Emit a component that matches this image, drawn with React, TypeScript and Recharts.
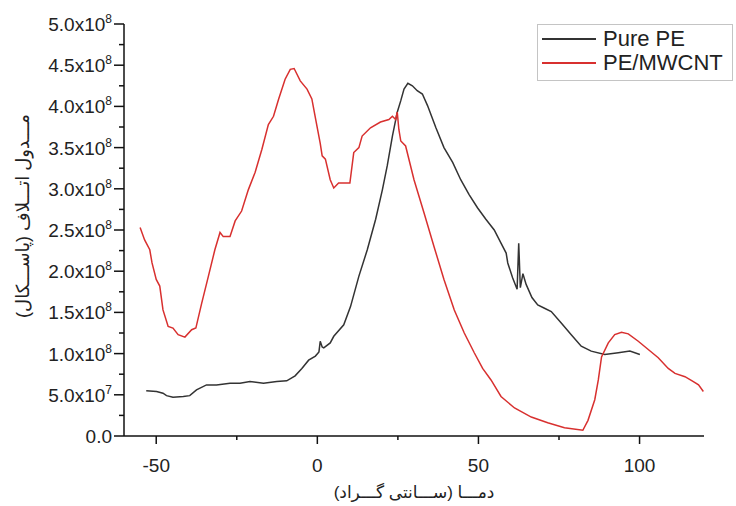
import React from 'react';
import { LineChart, Line, XAxis, YAxis } from 'recharts';

// temperature (°C) / loss modulus (in units of 1e8 Pa)
const pureTemp = [
  -53.1, -49.9, -47.9, -46.8, -44.8, -41.6, -39.6, -37.5, -34.4, -31.3, -27.1, -24.0,
  -20.9, -16.7, -12.6, -9.5, -6.9, -4.8, -2.7, -0.6, 0.5, 0.9, 1.5, 2.0, 4.0, 5.1, 8.2,
  10.3, 12.9, 15.5, 18.1, 20.2, 21.7, 23.3, 24.8, 25.9, 26.9, 28.1, 29.5, 31.0, 32.6,
  34.2, 36.8, 39.3, 42.0, 44.5, 47.1, 49.7, 52.3, 54.9, 57.0, 58.6, 59.1, 60.6, 62.0,
  62.5, 63.0, 63.8, 64.8, 66.6, 68.4, 70.5, 72.6, 75.7, 78.8, 81.9, 85.0, 89.2, 93.4,
  97.0, 100.1,
];
const pureMod = [
  0.55, 0.54, 0.52, 0.49, 0.47, 0.48, 0.49, 0.56, 0.62, 0.62, 0.64, 0.64,
  0.66, 0.64, 0.66, 0.67, 0.73, 0.82, 0.92, 0.97, 1.02, 1.15, 1.08, 1.07, 1.13, 1.21, 1.35,
  1.57, 1.94, 2.26, 2.63, 2.99, 3.28, 3.64, 3.93, 4.07, 4.21, 4.28, 4.25, 4.19, 4.15,
  4.01, 3.74, 3.50, 3.32, 3.11, 2.93, 2.77, 2.63, 2.50, 2.34, 2.22, 2.10, 1.92, 1.78,
  2.34, 1.80, 1.97, 1.84, 1.68, 1.59, 1.55, 1.51, 1.37, 1.23, 1.09, 1.03, 0.99, 1.01,
  1.03, 0.99,
];

const cntTemp = [
  -55.0, -53.6, -52.0, -51.3, -50.0, -48.9, -47.9, -46.3, -44.8, -43.2, -41.1, -39.0,
  -37.7, -35.9, -33.8, -31.8, -30.2, -29.2, -27.1, -25.5, -23.5, -21.4, -19.3, -17.2,
  -15.2, -13.6, -12.0, -10.0, -8.4, -7.2, -5.3, -3.2, -1.7, -0.6, 0.9, 1.5, 2.5, 4.0,
  5.1, 6.6, 10.1, 11.3, 12.9, 13.9, 16.5, 19.6, 22.2, 23.3, 24.3, 24.8, 25.3, 25.9, 27.4,
  30.0, 33.1, 36.2, 39.3, 42.5, 45.6, 48.7, 51.3, 53.9, 57.0, 61.2, 66.4, 71.5, 76.7,
  82.4, 84.0, 86.1, 87.2, 88.2, 90.3, 92.3, 94.4, 96.5, 99.6, 102.7, 105.8, 108.9, 111.0,
  114.1, 116.7, 118.3, 119.8,
];
const cntMod = [
  2.53, 2.38, 2.26, 2.10, 1.90, 1.82, 1.53, 1.33, 1.31, 1.23, 1.20, 1.29,
  1.31, 1.61, 1.94, 2.26, 2.47, 2.42, 2.42, 2.61, 2.73, 2.99, 3.20, 3.48,
  3.78, 3.88, 4.09, 4.33, 4.45, 4.46, 4.31, 4.21, 4.09, 3.86, 3.55, 3.40, 3.36, 3.11,
  3.01, 3.07, 3.07, 3.44, 3.50, 3.64, 3.74, 3.81, 3.84, 3.88, 3.84, 3.93, 3.72, 3.58, 3.52,
  3.11, 2.71, 2.30, 1.90, 1.53, 1.25, 1.01, 0.82, 0.68, 0.48, 0.34, 0.23, 0.16, 0.10,
  0.07, 0.19, 0.44, 0.68, 0.96, 1.13, 1.23, 1.26, 1.24, 1.15, 1.05, 0.95, 0.82, 0.76,
  0.72, 0.66, 0.62, 0.54,
];

const xTicks = [-50, -25, 0, 25, 50, 75, 100];
const xMajor = [-50, 0, 50, 100];
const yTicks = Array.from({ length: 21 }, (_, i) => i * 0.25e8);

const pureData = pureTemp.map((t, i) => ({ t, v: pureMod[i] * 1e8 }));
const cntData = cntTemp.map((t, i) => ({ t, v: cntMod[i] * 1e8 }));

const FONT = '"Liberation Sans", Arial, "DejaVu Sans", sans-serif';
const TXT = '#222';

const YTick = (props: any) => {
  const { x, y, payload } = props;
  const v = payload.value;
  const major = Math.round(v / 0.25e8) % 2 === 0;
  if (!major) {
    return <line x1={x - 5} x2={x} y1={y} y2={y} stroke="#111" strokeWidth={1.5} />;
  }
  let label: React.ReactNode = '0.0';
  if (v > 0) {
    const exp = v < 1e8 ? 7 : 8;
    const mant = (v / Math.pow(10, exp)).toFixed(1);
    label = (
      <>
        <tspan>{mant}x10</tspan>
        <tspan dy={-8} fontSize={12}>{exp}</tspan>
      </>
    );
  }
  return (
    <g>
      <line x1={x - 10} x2={x} y1={y} y2={y} stroke="#111" strokeWidth={1.5} />
      <text x={x - 12} y={y + 7} textAnchor="end" fontSize={19} fill={TXT} fontFamily={FONT}>
        {label}
      </text>
    </g>
  );
};

const XTick = (props: any) => {
  const { x, y, payload } = props;
  const major = xMajor.includes(payload.value);
  return (
    <g>
      <line x1={x} x2={x} y1={y} y2={y + (major ? 8 : 4)} stroke="#111" strokeWidth={1.5} />
      {major && (
        <text x={x} y={y + 36} textAnchor="middle" fontSize={19} fill={TXT} fontFamily={FONT}>
          {payload.value}
        </text>
      )}
    </g>
  );
};

const App: React.FC = () => {
  return (
    <div style={{ position: 'absolute', left: 0, top: 0, width: 736, height: 506, background: '#fff' }}>
      <LineChart width={736} height={506} margin={{ top: 24, right: 32, bottom: 20, left: 0 }}>
        <XAxis
          type="number"
          dataKey="t"
          domain={[-60, 120]}
          ticks={xTicks}
          allowDataOverflow
          height={50}
          tickSize={0}
          tickMargin={0}
          tickLine={false}
          tick={<XTick />}
          axisLine={{ stroke: '#111', strokeWidth: 1.5 }}
        />
        <YAxis
          type="number"
          dataKey="v"
          domain={[0, 5e8]}
          ticks={yTicks}
          interval={0}
          width={124}
          tickSize={0}
          tickMargin={0}
          tickLine={false}
          tick={<YTick />}
          axisLine={{ stroke: '#111', strokeWidth: 1.5 }}
        />
        <Line
          data={pureData}
          dataKey="v"
          type="linear"
          stroke="#333333"
          strokeWidth={1.5}
          dot={false}
          isAnimationActive={false}
        />
        <Line
          data={cntData}
          dataKey="v"
          type="linear"
          stroke="#d8302f"
          strokeWidth={1.5}
          dot={false}
          isAnimationActive={false}
        />
      </LineChart>

      {/* legend */}
      <div
        style={{
          position: 'absolute', left: 537, top: 24, width: 194, height: 55,
          border: '1px solid #c4c4c4', fontFamily: FONT, fontSize: 22, color: TXT,
        }}
      >
        {[
          { name: 'Pure PE', color: '#333333' },
          { name: 'PE/MWCNT', color: '#d8302f' },
        ].map((s, i) => (
          <div key={s.name} style={{ position: 'absolute', left: 4, top: 2 + i * 24, height: 24, display: 'flex', alignItems: 'center' }}>
            <div style={{ width: 54, height: 1.5, background: s.color }} />
            <span style={{ marginLeft: 7, lineHeight: '24px', whiteSpace: 'nowrap' }}>{s.name}</span>
          </div>
        ))}
      </div>

      {/* axis titles */}
      <div
        style={{
          position: 'absolute', left: 23, top: 216, transform: 'translate(-50%, -50%) rotate(-90deg)',
          fontFamily: FONT, fontSize: 18, color: TXT, whiteSpace: 'nowrap', direction: 'rtl',
        }}
      >
        مـــدول اتـــلاف (پاســـکال)
      </div>
      <div
        style={{
          position: 'absolute', left: 414, top: 492, transform: 'translate(-50%, -50%)',
          fontFamily: FONT, fontSize: 17, color: TXT, whiteSpace: 'nowrap', direction: 'rtl',
        }}
      >
        دمـــا (ســـانتی گـــراد)
      </div>
    </div>
  );
};

export default App;
